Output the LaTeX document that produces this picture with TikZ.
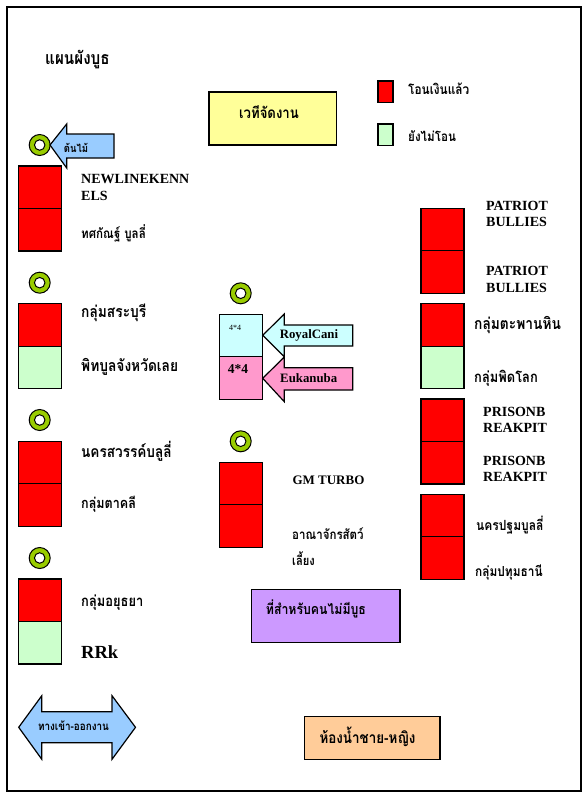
\documentclass[tikz,border=0pt]{standalone}
\usepackage{fontspec}
\setmainfont{Liberation Serif}
\newfontfamily\thaifont[Script=Thai,FakeStretch=0.86]{Loma}
\definecolor{boothred}{HTML}{FF0000}
\definecolor{boothgreen}{HTML}{CCFFCC}
\definecolor{stageyellow}{HTML}{FFFF99}
\definecolor{lightcyan}{HTML}{CCFFFF}
\definecolor{brandpink}{HTML}{FF99CC}
\definecolor{skyblue}{HTML}{99CCFF}
\definecolor{areapurple}{HTML}{CC99FF}
\definecolor{areaorange}{HTML}{FFCC99}
\definecolor{treegreen}{HTML}{99CC00}
\tikzset{
  boothbox/.style={draw=black,line width=1.2pt,minimum width=43pt,minimum height=42.5pt,inner sep=0pt,outer sep=0pt,anchor=north west},
  legendbox/.style={draw=black,line width=1.2pt,minimum width=15pt,minimum height=21.5pt,inner sep=0pt,outer sep=0pt,anchor=north west},
  areabox/.style={draw=black,line width=1.2pt,inner sep=0pt,outer sep=0pt,anchor=north west},
  shapeline/.style={draw=black,line width=1.2pt,line join=miter},
  tree/.style={circle,draw=black,fill=treegreen,line width=1pt,minimum size=21pt,inner sep=0pt},
  treehole/.style={circle,draw=black,fill=white,line width=1pt,minimum size=10.5pt,inner sep=0pt},
  latin/.style={font=\bfseries\fontsize{14}{16}\selectfont,anchor=west,inner sep=0pt,align=left},
  thai/.style={font=\thaifont\bfseries\fontsize{#1}{#1}\selectfont,anchor=west,inner sep=0pt},
  thaimid/.style={thai=#1,anchor=center},
}
\begin{document}
\begin{tikzpicture}[x=1pt,y=-1pt]
\useasboundingbox (0,0) rectangle (585,800);
\fill[white] (0,0) rectangle (585,800);
% frame
\draw[black,line width=1.2pt] (7,7) rectangle (581,791);
% title, stage, legend
\node[thai=17.7] (title) at (45,60) {แผนผังบูธ};
\node[areabox,fill=stageyellow,minimum width=127.5pt,minimum height=53pt] (stage) at (209,92) {};
\node[thaimid=15.3] (stagetext) at (269,112) {เวทีจัดงาน};
\node[legendbox,fill=boothred] (legpaid) at (378,81) {};
\node[legendbox,fill=boothgreen] (legunpaid) at (378,124) {};
\node[thai=13.8] (legpaidtext) at (408,89) {โอนเงินแล้ว};
\node[thai=13.5] (legunpaidtext) at (408,136) {ยังไม่โอน};
% trees
\foreach \n/\x/\y in {a/39.7/145,b/39.7/282.7,c/39.7/420,d/39.7/558,e/240.7/293.3,f/240.7/441.3}{
  \node[tree] (tree\n) at (\x,\y) {};
  \node[treehole] (hole\n) at (\x,\y) {};
}
% tree arrow
\draw[shapeline,fill=skyblue] (50,145) -- (66.7,124) -- (66.7,134) -- (114,134) -- (114,158) -- (66.7,158) -- (66.7,168) -- cycle;
\node[thaimid=11] (treelabel) at (76,148) {ต้นไม้};
% left column
\node[boothbox,fill=boothred] (l1) at (18.3,166) {};
\node[boothbox,fill=boothred] (l2) at (18.3,208.5) {};
\node[boothbox,fill=boothred] (l3) at (18.3,303.7) {};
\node[boothbox,fill=boothgreen] (l4) at (18.3,346.2) {};
\node[boothbox,fill=boothred] (l5) at (18.3,441.3) {};
\node[boothbox,fill=boothred] (l6) at (18.3,483.8) {};
\node[boothbox,fill=boothred] (l7) at (18.3,579) {};
\node[boothbox,fill=boothgreen] (l8) at (18.3,621.5) {};
\node[latin] (lt1) at (81,179) {NEWLINEKENN};
\node[latin] (lt1b) at (81,196) {ELS};
\node[thai=13.5] (lt2) at (81,233) {ทศกัณฐ์ บูลลี่};
\node[thai=16] (lt3) at (81,313) {กลุ่มสระบุรี};
\node[thai=16] (lt4) at (81,367) {พิทบูลจังหวัดเลย};
\node[thai=15.8] (lt5) at (81,451.7) {นครสวรรค์บลูลี่};
\node[thai=14.6] (lt6) at (81,504.7) {กลุ่มตาคลี};
\node[thai=15] (lt7) at (81,602.7) {กลุ่มอยุธยา};
\node[latin,font=\bfseries\fontsize{18.5}{20}\selectfont] (lt8) at (81,652.3) {RRk};
% centre column
\node[boothbox,fill=lightcyan] (c1) at (219.3,314.3) {};
\node[boothbox,fill=brandpink] (c2) at (219.3,356.8) {};
\node[font=\fontsize{8}{9}\selectfont,inner sep=0pt] (c1t) at (235,328) {4*4};
\node[font=\bfseries\fontsize{13.5}{15}\selectfont,inner sep=0pt] (c2t) at (238,369) {4*4};
\draw[shapeline,fill=brandpink] (262.7,378.3) -- (284.3,357) -- (284.3,367.7) -- (352.7,367.7) -- (352.7,390) -- (284.3,390) -- (284.3,401.7) -- cycle;
\draw[shapeline,fill=lightcyan] (262.7,335.3) -- (284.3,314) -- (284.3,325) -- (352.7,325) -- (352.7,346) -- (284.3,346) -- (284.3,356.7) -- cycle;
\node[font=\bfseries\fontsize{12.8}{15}\selectfont,inner sep=0pt] (royal) at (309,335) {RoyalCani};
\node[font=\bfseries\fontsize{12.8}{15}\selectfont,inner sep=0pt] (euka) at (308.7,378) {Eukanuba};
\node[boothbox,fill=boothred] (c3) at (219.3,462.3) {};
\node[boothbox,fill=boothred] (c4) at (219.3,504.8) {};
\node[latin,font=\bfseries\fontsize{13}{15}\selectfont] (gm) at (292.3,480.7) {GM TURBO};
\node[thai=13.4] (ct4) at (292,534) {อาณาจักรสัตว์};
\node[thai=13] (ct4b) at (292,559) {เลี้ยง};
% right column
\node[boothbox,fill=boothred] (r1) at (421,208.3) {};
\node[boothbox,fill=boothred] (r2) at (421,250.8) {};
\node[boothbox,fill=boothred] (r3) at (421,303.7) {};
\node[boothbox,fill=boothgreen] (r4) at (421,346.2) {};
\node[boothbox,fill=boothred] (r5) at (421,399) {};
\node[boothbox,fill=boothred] (r6) at (421,441.5) {};
\node[boothbox,fill=boothred] (r7) at (421,494.3) {};
\node[boothbox,fill=boothred] (r8) at (421,536.8) {};
\node[latin] (rt1) at (486,206) {PATRIOT};
\node[latin] (rt1b) at (486,222) {BULLIES};
\node[latin] (rt2) at (486,271) {PATRIOT};
\node[latin] (rt2b) at (486,287.7) {BULLIES};
\node[thai=16] (rt3) at (474,325) {กลุ่มตะพานหิน};
\node[thai=15] (rt4) at (474,378) {กลุ่มพิดโลก};
\node[latin] (rt5) at (483,412) {PRISONB};
\node[latin] (rt5b) at (483,428) {REAKPIT};
\node[latin] (rt6) at (483,460.7) {PRISONB};
\node[latin] (rt6b) at (483,476.7) {REAKPIT};
\node[thai=14] (rt7) at (476,525) {นครปฐมบูลลี่};
\node[thai=13.8] (rt8) at (475,572.7) {กลุ่มปทุมธานี};
% no-booth area
\node[areabox,fill=areapurple,minimum width=148.3pt,minimum height=53pt] (nobooth) at (251.7,589.3) {};
\node[thai=14.3] (noboothtext) at (265.7,609) {ที่สำหรับคนไม่มีบูธ};
% entrance
\draw[shapeline,fill=skyblue] (18.7,727.3) -- (41.8,695.7) -- (41.8,711.7) -- (112,711.7) -- (112,695.7) -- (135.5,727.3) -- (112,759.3) -- (112,742.7) -- (41.8,742.7) -- (41.8,759.3) -- cycle;
\node[thaimid=11.5] (entrance) at (73.5,726) {ทางเข้า-ออกงาน};
% restroom
\node[areabox,fill=areaorange,minimum width=135.5pt,minimum height=42.6pt] (rest) at (304.5,716.7) {};
\node[thaimid=15.6] (resttext) at (367.5,737) {ห้องน้ำชาย-หญิง};
\end{tikzpicture}
\end{document}
